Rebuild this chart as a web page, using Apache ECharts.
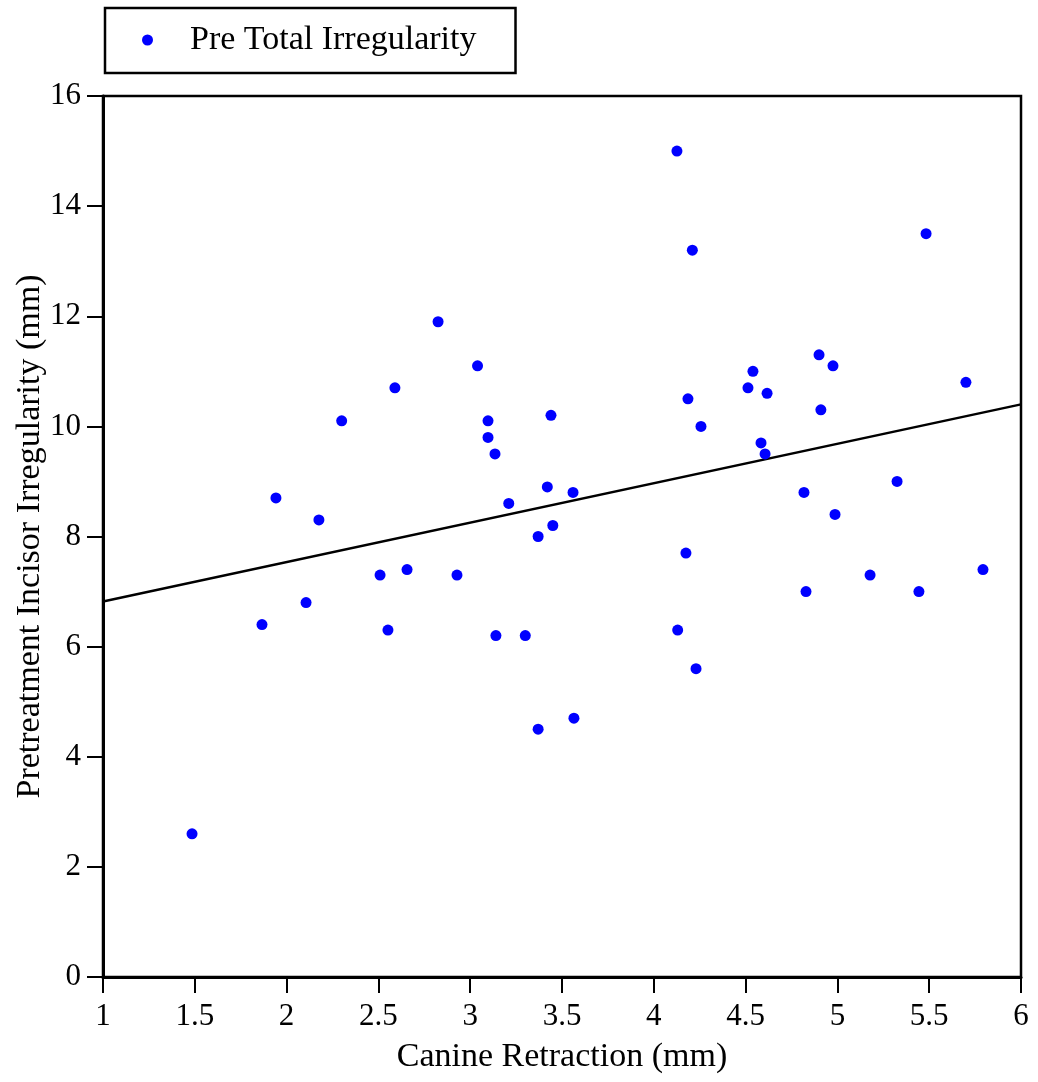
<!DOCTYPE html>
<html><head><meta charset="utf-8">
<script src="https://cdn.jsdelivr.net/npm/echarts@6/dist/echarts.min.js"></script>
<style>html,body{margin:0;padding:0;background:#fff}#c{width:1038px;height:1082px}</style>
</head><body><div id="c"></div>
<script>
const xValues = [1.485,1.866,1.942,2.106,2.176,2.30,2.509,2.552,2.59,2.656,2.825,2.928,3.04,3.097,3.097,3.135,3.14,3.21,3.30,3.37,3.37,3.42,3.44,3.45,3.56,3.565,4.126,4.13,4.175,4.186,4.21,4.23,4.257,4.513,4.54,4.584,4.606,4.617,4.818,4.829,4.9,4.91,4.976,4.987,5.178,5.325,5.444,5.483,5.70,5.793];
const yValues = [2.6,6.4,8.7,6.8,8.3,10.1,7.3,6.3,10.7,7.4,11.9,7.3,11.1,10.1,9.8,9.5,6.2,8.6,6.2,8.0,4.5,8.9,10.2,8.2,8.8,4.7,15.0,6.3,7.7,10.5,13.2,5.6,10.0,10.7,11.0,9.7,9.5,10.6,8.8,7.0,11.3,10.3,11.1,8.4,7.3,9.0,7.0,13.5,10.8,7.4];
const fitX = [1, 6];
const fitY = [6.82, 10.40];
const seriesName = 'Pre Total Irregularity';
const xName = 'Canine Retraction (mm)';
const yName = 'Pretreatment Incisor Irregularity (mm)';

const FONT = '"Liberation Serif", "DejaVu Serif", serif';
const chart = echarts.init(document.getElementById('c'), null, {renderer:'canvas'});
chart.setOption({
  backgroundColor:'#fff',
  animation:false,
  textStyle:{fontFamily:FONT},
  grid:{left:103,right:17,top:96,bottom:105,show:true,borderColor:'#000',borderWidth:2.5,containLabel:false,outerBoundsMode:'none'},
  legend:{
    show:true, left:105, top:8,
    padding:[15,39,16,37],
    borderColor:'#000', borderWidth:2.5,
    itemWidth:11, itemHeight:11, itemGap:10,
    textStyle:{fontFamily:FONT,fontSize:34,color:'#000',padding:[0,0,0,32]},
    data:[{name:seriesName,icon:'circle',itemStyle:{color:'#0000ff',opacity:1}}]
  },
  xAxis:{
    type:'value', min:1, max:6, interval:0.5,
    name:xName, nameLocation:'middle', nameGap:63,
    nameTextStyle:{fontFamily:FONT,fontSize:34,color:'#000'},
    axisLine:{show:true,lineStyle:{color:'#000',width:3}},
    axisTick:{show:true,length:16,lineStyle:{color:'#000',width:2}},
    axisLabel:{fontFamily:FONT,fontSize:31,color:'#000',margin:24},
    splitLine:{show:false}
  },
  yAxis:{
    type:'value', min:0, max:16, interval:2,
    name:yName, nameLocation:'middle', nameGap:56, nameMoveOverlap:false,
    nameTextStyle:{fontFamily:FONT,fontSize:34,color:'#000'},
    axisLine:{show:true,lineStyle:{color:'#000',width:3}},
    axisTick:{show:true,length:16,lineStyle:{color:'#000',width:2}},
    axisLabel:{fontFamily:FONT,fontSize:31,color:'#000',margin:22},
    splitLine:{show:false}
  },
  series:[
    {
      name:seriesName, type:'scatter', symbol:'circle', symbolSize:11,
      itemStyle:{color:'#0000ff',opacity:1},
      data:xValues.map((x,i)=>[x,yValues[i]]),
      z:3
    },
    {
      name:'fit', type:'line', showSymbol:false, symbol:'none',
      lineStyle:{color:'#000',width:2.5},
      data:fitX.map((x,i)=>[x,fitY[i]]),
      z:2
    }
  ]
});
</script>
</body></html>
